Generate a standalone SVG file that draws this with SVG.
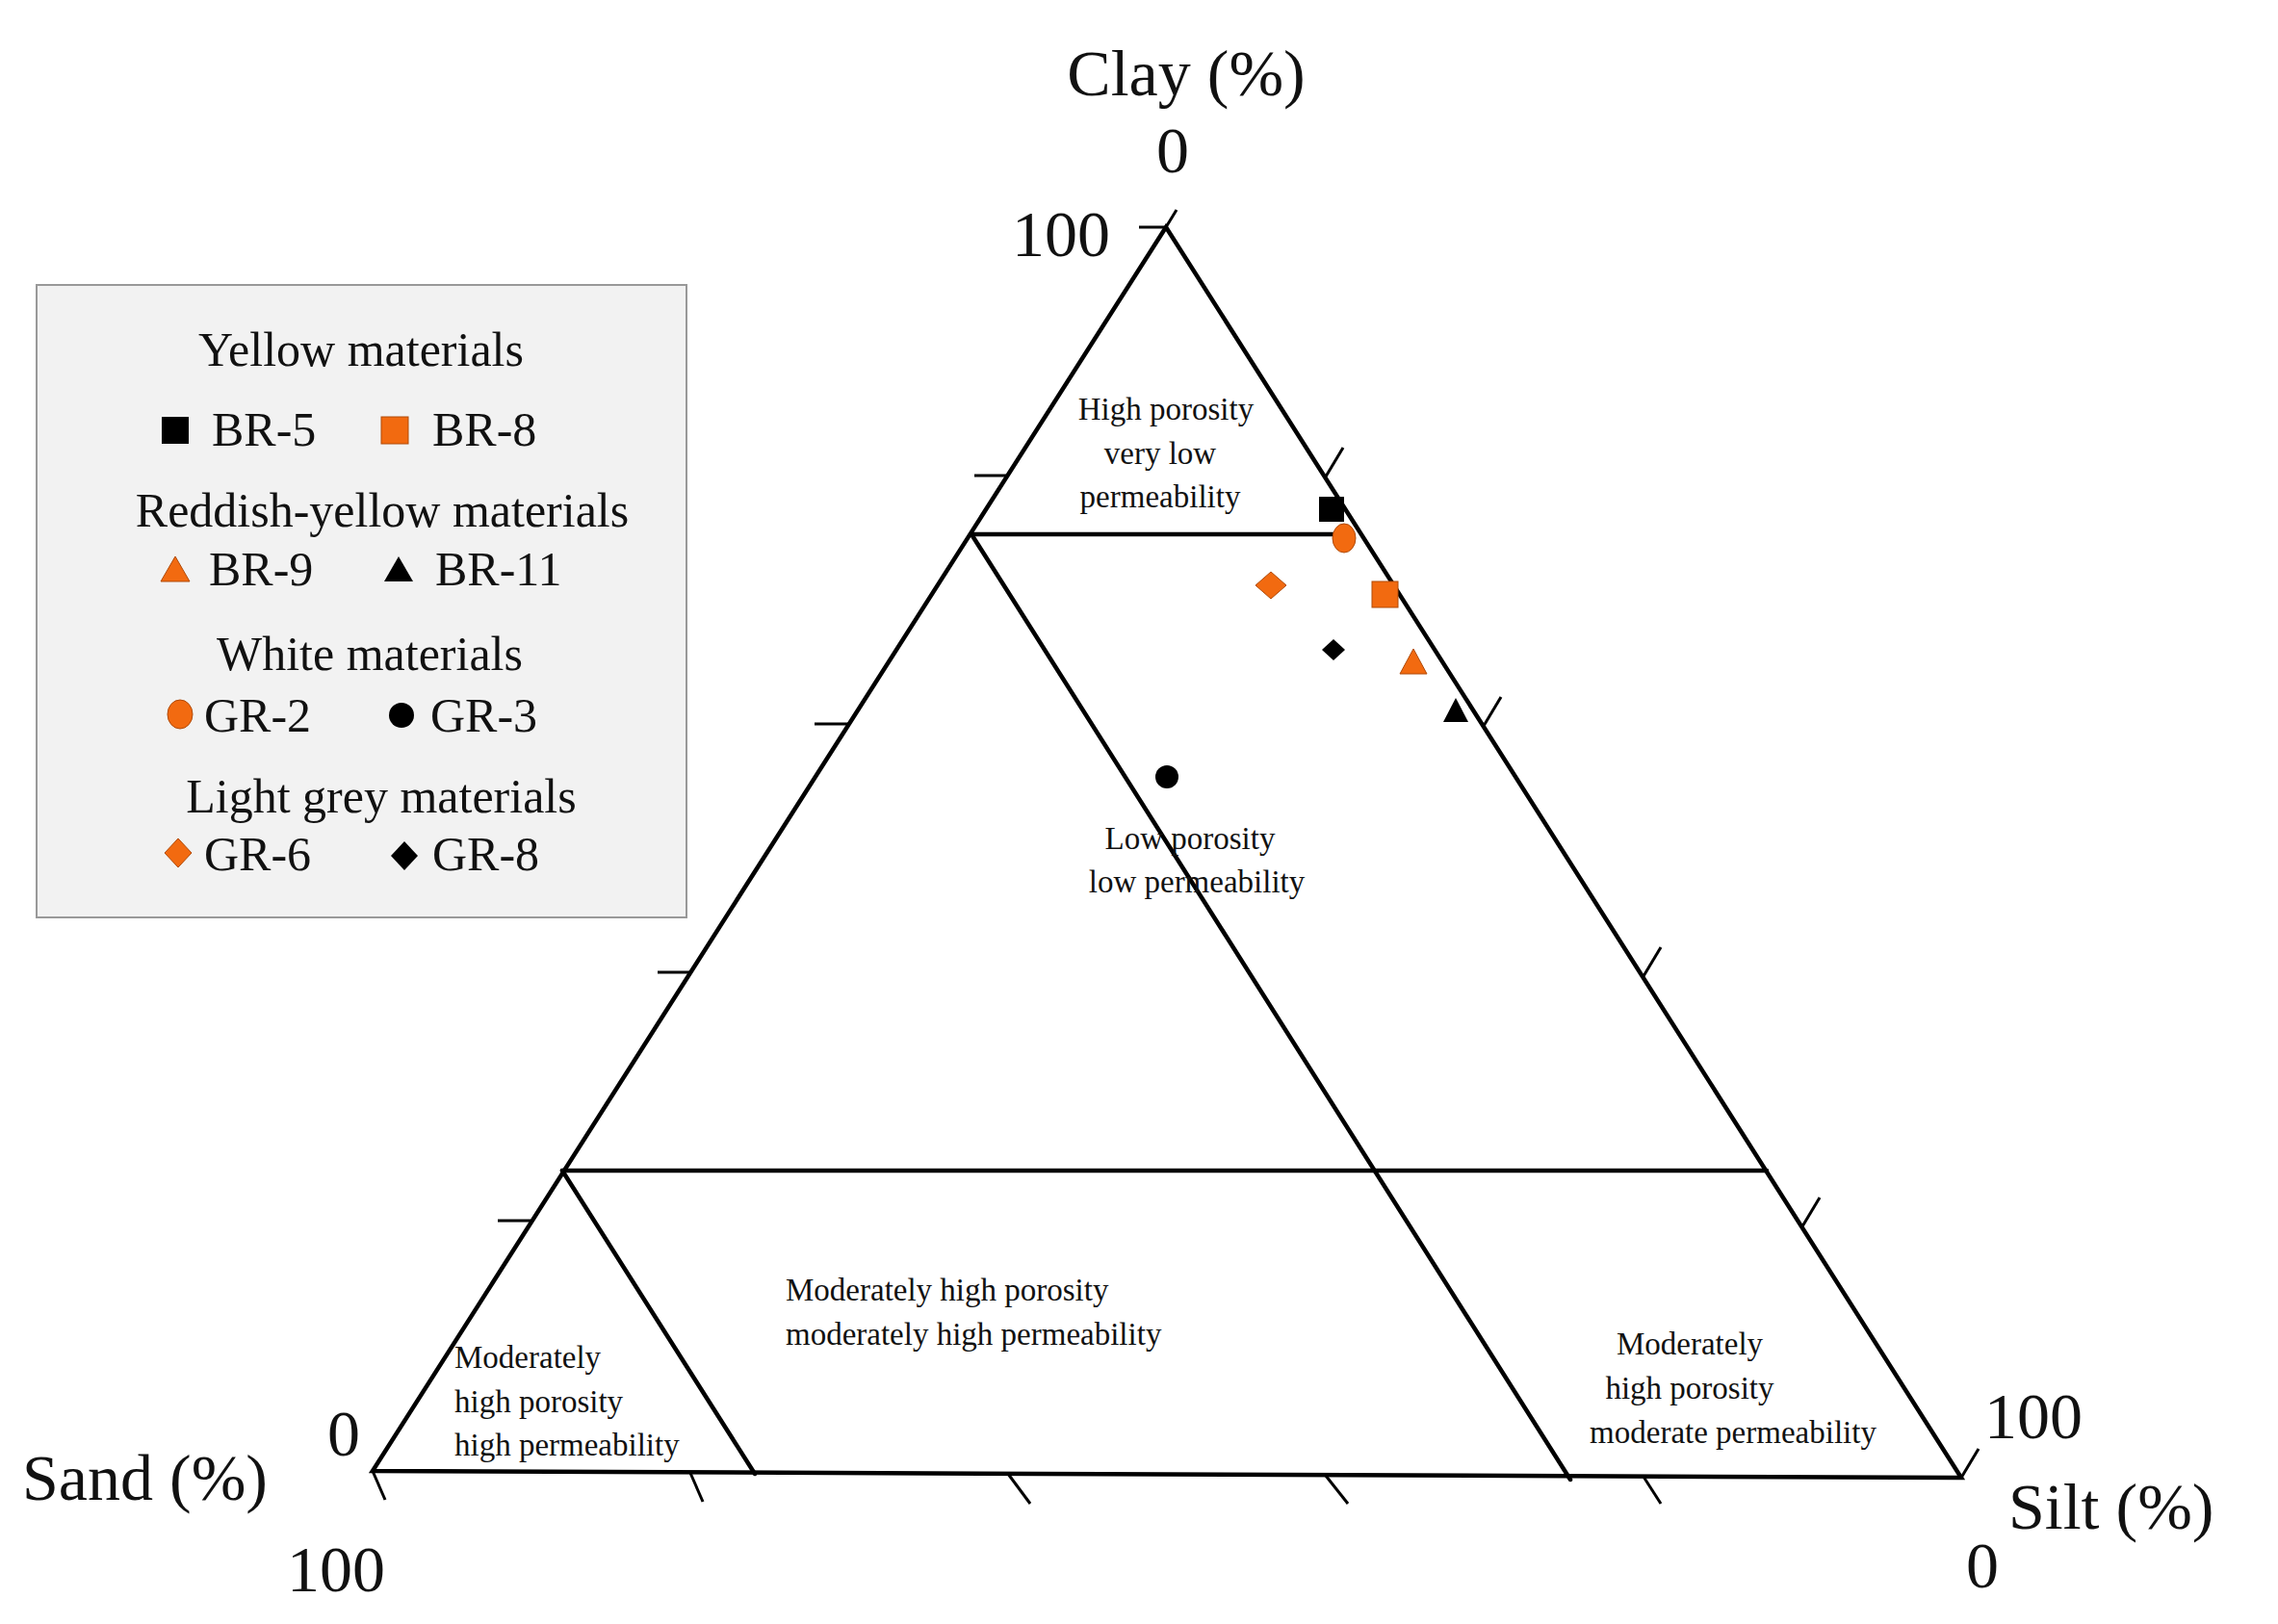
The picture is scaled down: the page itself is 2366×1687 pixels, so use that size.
<svg xmlns="http://www.w3.org/2000/svg" width="2366" height="1687" viewBox="0 0 2366 1687">
<style>
text{font-family:"Liberation Serif","Times New Roman",serif;fill:#111}
.ax{font-size:68px}
.rg{font-size:33px}
.lg{font-size:50px}
.ln{stroke:#000;stroke-width:4.5;fill:none;stroke-linecap:round}
.tk{stroke:#000;stroke-width:3;fill:none}
.or{fill:#f26a10;stroke:#b04a08;stroke-width:1}
.bk{fill:#000}
</style>
<rect width="2366" height="1687" fill="#fff"/>
<g id="legend">
<rect x="38" y="296" width="675" height="657" fill="#f2f2f2" stroke="#999" stroke-width="2"/>
<text class="lg" x="375" y="380" text-anchor="middle">Yellow materials</text>
<rect class="bk" x="168" y="433" width="28" height="28"/><text class="lg" x="220" y="463">BR-5</text>
<rect class="or" x="396" y="433" width="28" height="28"/><text class="lg" x="449" y="463">BR-8</text>
<text class="lg" x="397" y="547" text-anchor="middle">Reddish-yellow materials</text>
<polygon class="or" points="182,578 197,604 167,604"/><text class="lg" x="217" y="608">BR-9</text>
<polygon class="bk" points="414,578 429,604 399,604"/><text class="lg" x="452" y="608">BR-11</text>
<text class="lg" x="384" y="696" text-anchor="middle">White materials</text>
<ellipse class="or" cx="187" cy="742" rx="13" ry="15"/><text class="lg" x="212" y="760">GR-2</text>
<circle class="bk" cx="417" cy="743" r="13"/><text class="lg" x="447" y="760">GR-3</text>
<text class="lg" x="396" y="844" text-anchor="middle">Light grey materials</text>
<polygon class="or" points="185,871 199,886 185,901 171,886"/><text class="lg" x="212" y="904">GR-6</text>
<polygon class="bk" points="420,874 434,889 420,904 406,889"/><text class="lg" x="449" y="904">GR-8</text>
</g>
<g id="triangle">
<polygon class="ln" points="1211,236 387,1528 2037,1535"/>
<line class="ln" x1="1009" y1="555" x2="1390" y2="555"/>
<line class="ln" x1="584" y1="1216" x2="1835" y2="1216"/>
<line class="ln" x1="1009" y1="555" x2="1631" y2="1537"/>
<line class="ln" x1="584" y1="1216" x2="784" y2="1531"/>
</g>
<g id="ticks">
<line class="tk" x1="1211" y1="236" x2="1183" y2="236"/>
<line class="tk" x1="1211" y1="236" x2="1222" y2="218"/>
<line class="tk" x1="1045" y1="494" x2="1012" y2="494"/>
<line class="tk" x1="881" y1="752" x2="846" y2="752"/>
<line class="tk" x1="716" y1="1010" x2="683" y2="1010"/>
<line class="tk" x1="551" y1="1268" x2="517" y2="1268"/>
<line class="tk" x1="1377" y1="495" x2="1395" y2="465"/>
<line class="tk" x1="1541" y1="754" x2="1559" y2="724"/>
<line class="tk" x1="1707" y1="1014" x2="1725" y2="984"/>
<line class="tk" x1="1872" y1="1274" x2="1890" y2="1244"/>
<line class="tk" x1="2037" y1="1535" x2="2055" y2="1505"/>
<line class="tk" x1="387" y1="1528" x2="400" y2="1558"/>
<line class="tk" x1="717" y1="1530" x2="730" y2="1560"/>
<line class="tk" x1="1047" y1="1531" x2="1070" y2="1562"/>
<line class="tk" x1="1377" y1="1533" x2="1400" y2="1562"/>
<line class="tk" x1="1707" y1="1534" x2="1725" y2="1562"/>
</g>
<g id="axis-labels">
<text class="ax" x="1232" y="99" text-anchor="middle">Clay (%)</text>
<text class="ax" x="1218" y="179" text-anchor="middle">0</text>
<text class="ax" x="1153" y="266" text-anchor="end">100</text>
<text class="ax" x="23" y="1558">Sand (%)</text>
<text class="ax" x="357" y="1512" text-anchor="middle">0</text>
<text class="ax" x="349" y="1653" text-anchor="middle">100</text>
<text class="ax" x="2112" y="1494" text-anchor="middle">100</text>
<text class="ax" x="2086" y="1588">Silt (%)</text>
<text class="ax" x="2059" y="1649" text-anchor="middle">0</text>
</g>
<g id="regions">
<text class="rg" text-anchor="middle"><tspan x="1211" y="436">High porosity</tspan><tspan x="1205" y="482">very low</tspan><tspan x="1205" y="527">permeability</tspan></text>
<text class="rg" text-anchor="middle"><tspan x="1236" y="882">Low porosity</tspan><tspan x="1243" y="927">low permeability</tspan></text>
<text class="rg"><tspan x="816" y="1351">Moderately high porosity</tspan><tspan x="816" y="1397">moderately high permeability</tspan></text>
<text class="rg"><tspan x="472" y="1421">Moderately</tspan><tspan x="472" y="1467">high porosity</tspan><tspan x="472" y="1512">high permeability</tspan></text>
<text class="rg" text-anchor="middle"><tspan x="1755" y="1407">Moderately</tspan><tspan x="1755" y="1453">high porosity</tspan><tspan x="1800" y="1499">moderate permeability</tspan></text>
</g>
<g id="points">
<rect class="bk" x="1370" y="516" width="26" height="26"/>
<ellipse class="or" cx="1396" cy="559" rx="12" ry="15"/>
<polygon class="or" points="1320,594 1336,608 1320,622 1304,608"/>
<rect class="or" x="1425" y="604" width="27" height="27"/>
<polygon class="bk" points="1385,664 1397,675 1385,686 1373,675"/>
<polygon class="or" points="1468,674 1482,700 1454,700"/>
<polygon class="bk" points="1512,725 1525,750 1499,750"/>
<circle class="bk" cx="1212" cy="807" r="12"/>
</g>
</svg>
